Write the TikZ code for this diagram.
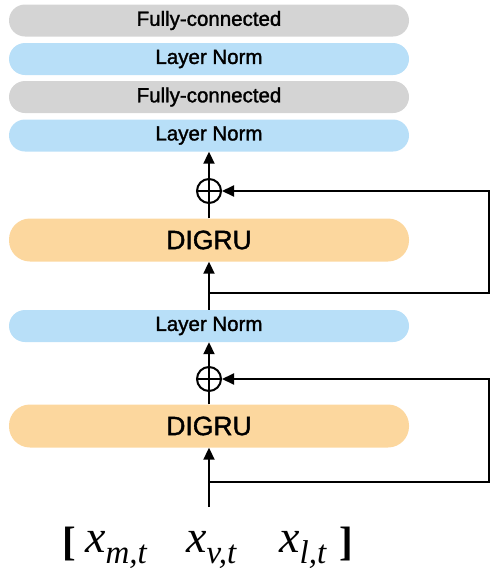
\documentclass[tikz,border=0pt]{standalone}
\usepackage{fontspec}
\setmainfont[FakeBold=1.5]{Liberation Sans}
\newfontfamily\tms{Liberation Serif}
\usetikzlibrary{arrows.meta}
\definecolor{fcgray}{RGB}{212,212,212}
\definecolor{lnblue}{RGB}{184,223,248}
\definecolor{gruorange}{RGB}{252,215,158}
\tikzset{
  layer/.style={rectangle,rounded corners=16pt,minimum width=400pt,minimum height=32pt,
    inner sep=0pt,font=\fontsize{20.5}{24}\selectfont},
  fc/.style={layer,fill=fcgray},
  norm/.style={layer,fill=lnblue},
  gru/.style={layer,fill=gruorange,minimum height=43pt,rounded corners=21pt,
    font=\fontsize{26.5}{30}\selectfont},
  oplus/.style={circle,draw,line width=2pt,minimum size=24pt,inner sep=0pt,
    path picture={\draw[line width=2pt]
      (path picture bounding box.west) -- (path picture bounding box.east)
      (path picture bounding box.north) -- (path picture bounding box.south);}},
  wire/.style={line width=2pt},
  flow/.style={wire,-{Triangle[length=12pt,width=11pt]}},
  xlab/.style={anchor=base west,inner sep=0pt,font=\tms\itshape\fontsize{46}{50}\selectfont},
  brk/.style={inner sep=0pt,font=\tms\bfseries\fontsize{41}{44}\selectfont},
}
\begin{document}
\begin{tikzpicture}[x=1pt,y=-1pt]
\useasboundingbox (0,0) rectangle (491,571);
\node[fc] (fc1) at (209,20.5) {Fully-connected};
\node[norm] (ln1) at (209,59) {Layer Norm};
\node[fc] (fc2) at (209,97) {Fully-connected};
\node[norm] (ln2) at (209,135.5) {Layer Norm};
\node[oplus] (add1) at (209,191) {};
\node[gru] (gru1) at (209,240) {DIGRU};
\node[norm] (ln3) at (209,326) {Layer Norm};
\node[oplus] (add2) at (209,379) {};
\node[gru] (gru2) at (209,426) {DIGRU};
\coordinate (skip1) at (209,293);
\coordinate (skip2) at (209,482);
\coordinate (in) at (209,507);

\draw[flow] (add1) -- (ln2);
\draw[wire] (gru1) -- (add1);
\draw[flow] (ln3) -- (gru1);
\draw[flow] (skip1) -- (489,293) |- (add1);
\draw[flow] (add2) -- (ln3);
\draw[wire] (gru2) -- (add2);
\draw[flow] (in) -- (gru2);
\draw[flow] (skip2) -- (489,482) |- (add2);

\node[brk,anchor=base west] (lbr) at (62,555) {[};
\node[xlab] (xm) at (85,552) {x\raisebox{-11pt}{\fontsize{33}{36}\selectfont m,t}};
\node[xlab] (xv) at (186,552) {x\raisebox{-11pt}{\fontsize{33}{36}\selectfont v,t}};
\node[xlab] (xl) at (279,552) {x\raisebox{-11pt}{\fontsize{33}{36}\selectfont l,t}};
\node[brk,anchor=base east] (rbr) at (353,555) {]};
\end{tikzpicture}
\end{document}
